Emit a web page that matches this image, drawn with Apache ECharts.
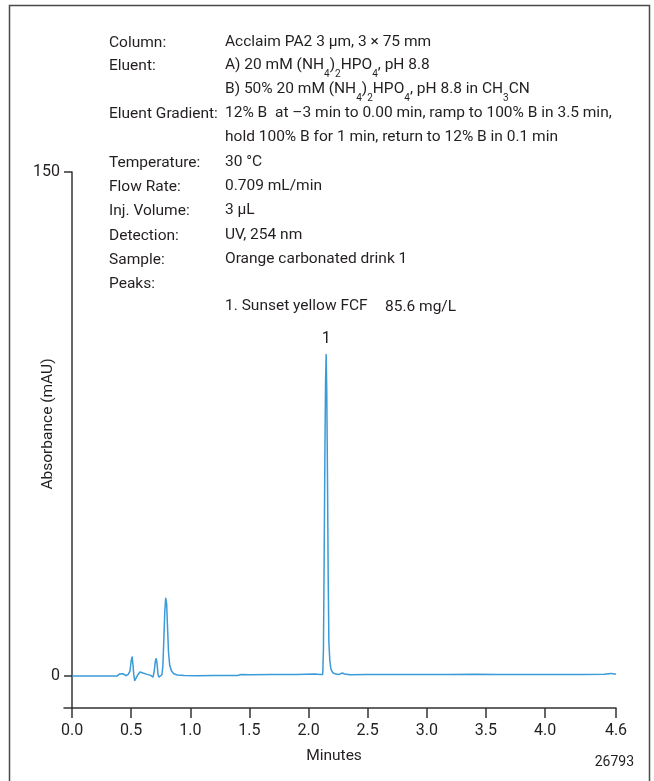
<!DOCTYPE html>
<html>
<head>
<meta charset="utf-8">
<script src="https://cdn.jsdelivr.net/npm/echarts@6/dist/echarts.min.js"></script>
<style>
  html, body { margin: 0; padding: 0; background: #fff; }
  #chart { width: 654px; height: 781px; }
</style>
</head>
<body>
<div id="chart"></div>
<script>
// Retention time (min) and detector response (mAU) of the chromatogram trace
const timeMin = [
  0.00, 0.20, 0.38, 0.40, 0.43, 0.455, 0.475, 0.49, 0.50, 0.508, 0.515, 0.522,
  0.530, 0.540, 0.555, 0.575, 0.60, 0.635, 0.665, 0.685, 0.695, 0.705, 0.712,
  0.719, 0.727, 0.735, 0.748, 0.760, 0.768, 0.776, 0.784, 0.792, 0.800, 0.808,
  0.816, 0.826, 0.840, 0.860, 0.890, 0.95, 1.05, 1.20, 1.40, 1.43, 1.50, 1.70,
  1.90, 2.05, 2.10, 2.120, 2.126, 2.132, 2.138, 2.144, 2.149, 2.154, 2.160,
  2.166, 2.172, 2.180, 2.190, 2.205, 2.23, 2.26, 2.285, 2.295, 2.305, 2.35,
  2.50, 2.60, 2.70, 2.90, 3.20, 3.40, 3.60, 3.80, 4.00, 4.30, 4.50, 4.56,
  4.58, 4.60
];
const absorbance = [
  0.0, 0.0, 0.0, 0.6, 0.7, 0.1, 0.5, 1.5, 4.5, 5.8, 3.5, 0.5,
  -1.4, -1.0, 0.3, 1.2, 0.9, 0.5, 0.2, -0.3, 1.5, 4.5, 5.3,
  3.6, 0.5, -0.3, -0.4, 0.4, 3.0, 10.5, 19.0, 23.3, 21.5, 14.0,
  7.0, 3.2, 1.6, 0.7, 0.3, 0.15, 0.1, 0.15, 0.2, 0.45, 0.4, 0.45,
  0.5, 0.6, 0.5, 0.5, 8.0, 35.0, 65.0, 88.0, 95.8, 85.0, 60.0,
  30.0, 10.0, 4.5, 2.0, 1.0, 0.6, 0.5, 0.9, 1.2, 0.6, 0.4,
  0.45, 0.5, 0.45, 0.45, 0.5, 0.55, 0.45, 0.5, 0.5, 0.5, 0.55, 0.8,
  0.6, 0.6
];

// Labelled peaks
const peakNames = ['1'];
const peakTimes = [2.149];

// Axis tick positions
const xTicks = [0, 0.5, 1.0, 1.5, 2.0, 2.5, 3.0, 3.5, 4.0, 4.6];
const yTicks = [0, 150];

// Method conditions listed above the trace
const conditionLabels = [
  'Column:', 'Eluent:', '', 'Eluent Gradient:', '', 'Temperature:',
  'Flow Rate:', 'Inj. Volume:', 'Detection:', 'Sample:', 'Peaks:', ''
];
const conditionValues = [
  '{n|Acclaim PA2 3 µm, 3 × 75 mm}',
  '{n|A) 20 mM (NH}{s|4}{n|)}{s|2}{n|HPO}{s|4}{n|, pH 8.8}',
  '{n|B) 50% 20 mM (NH}{s|4}{n|)}{s|2}{n|HPO}{s|4}{n|, pH 8.8 in CH}{s|3}{n|CN}',
  '{n|12% B  at –3 min to 0.00 min, ramp to 100% B in 3.5 min,}',
  '{n|hold 100% B for 1 min, return to 12% B in 0.1 min}',
  '{n|30 °C}',
  '{n|0.709 mL/min}',
  '{n|3 µL}',
  '{n|UV, 254 nm}',
  '{n|Orange carbonated drink 1}',
  '',
  '{n|1. Sunset yellow FCF}'
];
const peakAmounts = ['85.6 mg/L'];

const FONT = "Roboto, 'Liberation Sans', sans-serif";
const INK = '#231f20';
const TRACE = '#3b9ad8';
const INFO_SIZE = 15.5;

const rowY = [43, 66.5, 90, 114, 138, 163, 187, 211.5, 236, 260, 284, 307];
const richStyles = {
  n: { fontSize: INFO_SIZE, lineHeight: 22, verticalAlign: 'top', fontFamily: FONT, fill: INK },
  s: { fontSize: 10, lineHeight: 13, verticalAlign: 'bottom', fontFamily: FONT, fill: INK }
};

const graphics = [
  {
    type: 'rect', silent: true,
    shape: { x: 9.5, y: 5.5, width: 640, height: 800 },
    style: { fill: 'none', stroke: '#4a4a4a', lineWidth: 1.5 }
  },
  {
    type: 'text', silent: true,
    x: 48, y: 424, rotation: Math.PI / 2,
    style: { text: 'Absorbance (mAU)', font: '15.5px ' + FONT, fill: INK, align: 'center', verticalAlign: 'middle' }
  },
  {
    type: 'text', silent: true,
    x: 334, y: 756,
    style: { text: 'Minutes', font: '15.5px ' + FONT, fill: INK, align: 'center', verticalAlign: 'middle' }
  },
  {
    type: 'text', silent: true,
    x: 634, y: 762,
    style: { text: '26793', font: '14px ' + FONT, fill: INK, align: 'right', verticalAlign: 'middle' }
  },
  {
    type: 'text', silent: true,
    x: 385, y: rowY[11],
    style: { text: peakAmounts[0], font: INFO_SIZE + 'px ' + FONT, fill: INK, align: 'left', verticalAlign: 'middle' }
  }
];
conditionLabels.forEach((label, i) => {
  if (label) {
    graphics.push({
      type: 'text', silent: true, x: 109, y: rowY[i],
      style: { text: label, font: INFO_SIZE + 'px ' + FONT, fill: INK, align: 'left', verticalAlign: 'middle' }
    });
  }
  if (conditionValues[i]) {
    graphics.push({
      type: 'text', silent: true, x: 225, y: rowY[i] + 2,
      style: { text: conditionValues[i], rich: richStyles, align: 'left', verticalAlign: 'middle' }
    });
  }
});

const traceData = timeMin.map((t, i) => [t, absorbance[i]]);
const peakMarks = peakTimes.map((t, k) => {
  const i = timeMin.indexOf(t);
  return { name: peakNames[k], coord: [t, absorbance[i]] };
});

const chart = echarts.init(document.getElementById('chart'), null, { renderer: 'canvas' });
chart.setOption({
  animation: false,
  backgroundColor: '#ffffff',
  grid: { left: 64, right: 38, top: 172, bottom: 73, containLabel: false },
  xAxis: {
    type: 'value',
    min: -0.068,
    max: 4.6,
    axisLine: { show: true, onZero: false, lineStyle: { color: '#333', width: 1.5 } },
    axisTick: { show: true, length: 10, customValues: xTicks, lineStyle: { color: '#333', width: 1.5 } },
    axisLabel: {
      show: true, customValues: xTicks, margin: 15,
      formatter: v => v.toFixed(1),
      fontFamily: FONT, fontSize: 16, color: INK
    },
    splitLine: { show: false }
  },
  yAxis: {
    type: 'value',
    min: -9.5,
    max: 150,
    axisLine: { show: true, onZero: true, lineStyle: { color: '#333', width: 1.5 } },
    axisTick: { show: true, length: 8, customValues: yTicks, lineStyle: { color: '#333', width: 1.5 } },
    axisLabel: {
      show: true, customValues: yTicks, margin: 4,
      fontFamily: FONT, fontSize: 16, color: INK
    },
    splitLine: { show: false }
  },
  graphic: graphics,
  series: [{
    type: 'line',
    data: traceData,
    showSymbol: false,
    smooth: false,
    lineStyle: { color: TRACE, width: 1.5 },
    markPoint: {
      symbol: 'circle',
      symbolSize: 1,
      itemStyle: { color: 'rgba(0,0,0,0)' },
      label: {
        show: true, position: 'top', distance: 7,
        formatter: p => p.name,
        fontFamily: FONT, fontSize: 16, color: INK
      },
      data: peakMarks
    }
  }]
});
</script>
</body>
</html>
